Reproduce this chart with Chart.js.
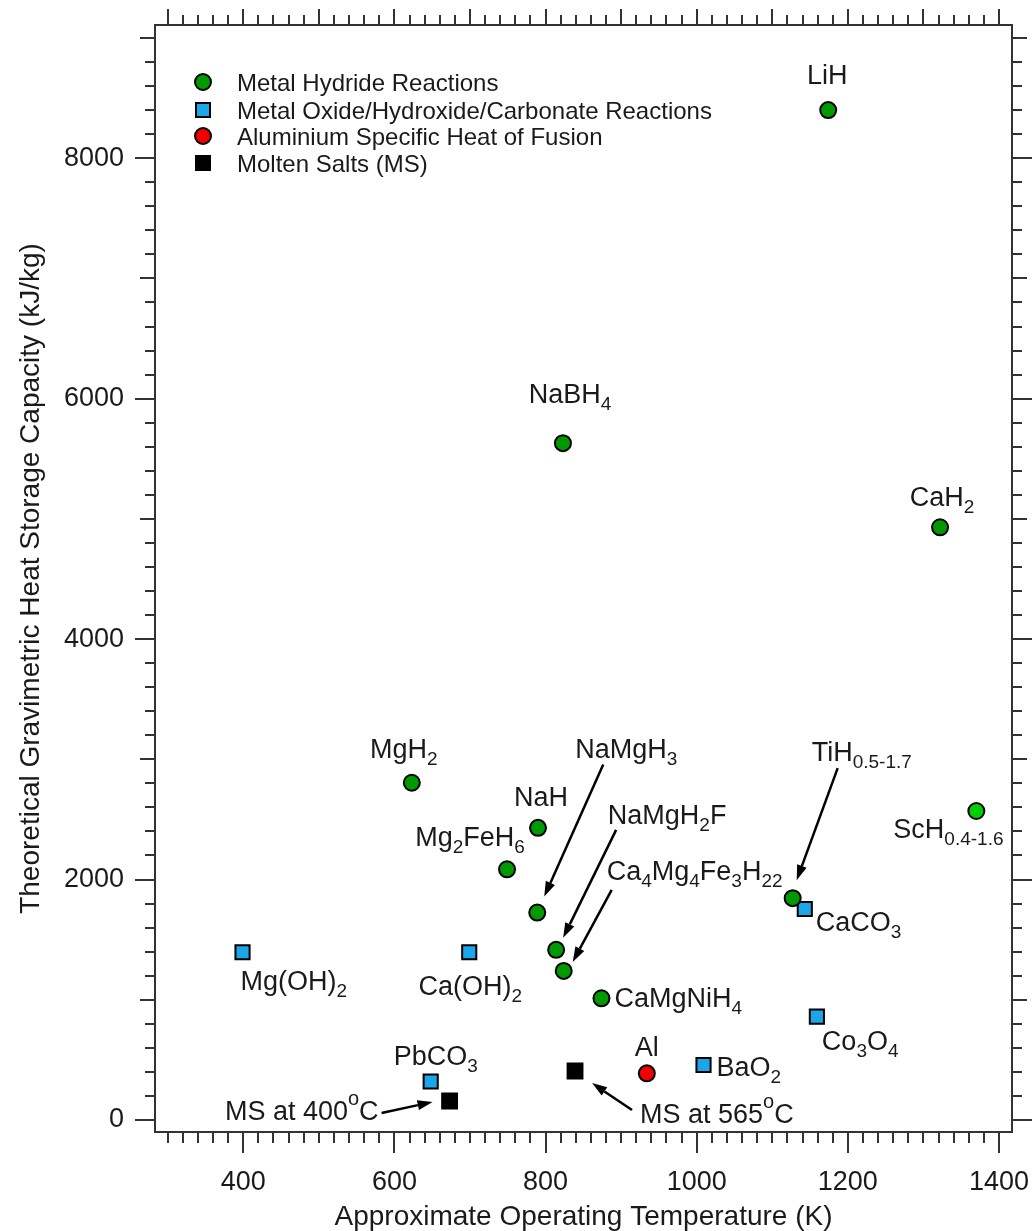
<!DOCTYPE html>
<html>
<head>
<meta charset="utf-8">
<script src="https://cdn.jsdelivr.net/npm/chart.js@4.4.1/dist/chart.umd.min.js"></script>
<style>
  html, body { margin: 0; padding: 0; background: #fff; }
</style>
</head>
<body>
<canvas id="chart" width="1032" height="1231"></canvas>
<script>
// ---------------- data ----------------
var hydrideNames = ['LiH', 'NaBH_{4}', 'CaH_{2}', 'MgH_{2}', 'NaH', 'Mg_{2}FeH_{6}', 'NaMgH_{3}',
                    'NaMgH_{2}F', 'Ca_{4}Mg_{4}Fe_{3}H_{22}', 'CaMgNiH_{4}', 'TiH_{0.5-1.7}', 'ScH_{0.4-1.6}'];
var hydrideTemp = [1174, 823, 1322, 623, 790, 749, 789, 814, 824, 874, 1127, 1370];
var hydrideCap  = [8400, 5630, 4930, 2805, 2430, 2085, 1725, 1415, 1240, 1012, 1845, 2570];

var oxideNames = ['Mg(OH)_{2}', 'Ca(OH)_{2}', 'CaCO_{3}', 'Co_{3}O_{4}', 'BaO_{2}', 'PbCO_{3}'];
var oxideTemp  = [399, 699, 1143, 1159, 1009, 648];
var oxideCap   = [1395, 1395, 1755, 860, 457, 320];

var alNames = ['Al'];
var alTemp  = [934];
var alCap   = [388];

var saltNames = ['MS at 400^{o}C', 'MS at 565^{o}C'];
var saltTemp  = [673, 839];
var saltCap   = [158, 407];

var seriesNames = ['Metal Hydride Reactions', 'Metal Oxide/Hydroxide/Carbonate Reactions',
                   'Aluminium Specific Heat of Fusion', 'Molten Salts (MS)'];
var xTicks = [400, 600, 800, 1000, 1200, 1400];
var yTicks = [0, 2000, 4000, 6000, 8000];

// ---------------- look ----------------
var FONT = '"Liberation Sans", Arial, Helvetica, sans-serif';
var INK = '#1a1a1a';
var green = '#009a00', lime = '#00d000', blue = '#1ba6ea', red = '#f00000';

// where each label sits relative to its point (px); dy is to the text baseline
var labelPos = {
  'LiH': {dx: -1, dy: -26, align: 'center'},
  'NaBH_{4}': {dx: 7, dy: -40, align: 'center'},
  'CaH_{2}': {dx: 2, dy: -21, align: 'center'},
  'MgH_{2}': {dx: -8, dy: -25, align: 'center'},
  'NaH': {dx: 3, dy: -22, align: 'center'},
  'Mg_{2}FeH_{6}': {dx: -37, dy: -23, align: 'center'},
  'NaMgH_{3}': {dx: 89, dy: -155, align: 'center', arrow: [66, -148, 7, -16]},
  'NaMgH_{2}F': {dx: 111, dy: -126, align: 'center', arrow: [60, -120, 7, -12]},
  'Ca_{4}Mg_{4}Fe_{3}H_{22}': {dx: 43, dy: -91, align: 'left', arrow: [48, -81, 9, -9]},
  'CaMgNiH_{4}': {dx: 13, dy: 9, align: 'left'},
  'TiH_{0.5-1.7}': {dx: 19, dy: -137, align: 'left', arrow: [45, -130, 4, -18]},
  'ScH_{0.4-1.6}': {dx: -83, dy: 27, align: 'left'},
  'Mg(OH)_{2}': {dx: -2, dy: 38, align: 'left'},
  'Ca(OH)_{2}': {dx: 1, dy: 43, align: 'center'},
  'CaCO_{3}': {dx: 11, dy: 22, align: 'left'},
  'Co_{3}O_{4}': {dx: 5, dy: 33, align: 'left'},
  'BaO_{2}': {dx: 13, dy: 11, align: 'left'},
  'PbCO_{3}': {dx: 5, dy: -17, align: 'center'},
  'Al': {dx: 0, dy: -17, align: 'center'},
  'MS at 400^{o}C': {dx: -71, dy: 19, align: 'right', arrow: [-68, 12, -17, 1]},
  'MS at 565^{o}C': {dx: 65, dy: 52, align: 'left', arrow: [57, 39, 17, 12]}
};

function pts(xs, ys) {
  return xs.map(function (x, i) { return {x: x, y: ys[i]}; });
}

// text with _{sub} and ^{sup}
function parseRich(str) {
  var parts = [], re = /([_^])\{([^}]*)\}/g, last = 0, m;
  while ((m = re.exec(str))) {
    if (m.index > last) parts.push({t: str.slice(last, m.index), k: 'n'});
    parts.push({t: m[2], k: m[1] == '_' ? 'sub' : 'sup'});
    last = re.lastIndex;
  }
  if (last < str.length) parts.push({t: str.slice(last), k: 'n'});
  return parts;
}
function richFont(k) {
  if (k == 'sub') return '19px ' + FONT;
  if (k == 'sup') return '20px ' + FONT;
  return '27px ' + FONT;
}
function richShift(k) {
  return k == 'sub' ? 7 : (k == 'sup' ? -15 : 0);
}
function drawRich(ctx, str, x, y, align) {
  var parts = parseRich(str), w = 0;
  parts.forEach(function (p) { ctx.font = richFont(p.k); p.w = ctx.measureText(p.t).width; w += p.w; });
  var cx = align == 'center' ? x - w / 2 : (align == 'right' ? x - w : x);
  ctx.textAlign = 'left';
  ctx.textBaseline = 'alphabetic';
  parts.forEach(function (p) {
    ctx.font = richFont(p.k);
    ctx.fillText(p.t, cx, y + richShift(p.k));
    cx += p.w;
  });
}
function drawArrow(ctx, x1, y1, x2, y2) {
  var a = Math.atan2(y2 - y1, x2 - x1), hl = 15, hw = 5;
  var bx = x2 - hl * Math.cos(a), by = y2 - hl * Math.sin(a);
  ctx.strokeStyle = '#000';
  ctx.lineWidth = 2.5;
  ctx.beginPath();
  ctx.moveTo(x1, y1);
  ctx.lineTo(bx, by);
  ctx.stroke();
  ctx.fillStyle = '#000';
  ctx.beginPath();
  ctx.moveTo(x2, y2);
  ctx.lineTo(bx + hw * Math.sin(a), by - hw * Math.cos(a));
  ctx.lineTo(bx - hw * Math.sin(a), by + hw * Math.cos(a));
  ctx.closePath();
  ctx.fill();
}

// frame plus major/minor tick marks on all four sides
var framePlugin = {
  id: 'frame',
  beforeDatasetsDraw: function (chart) {
    var ctx = chart.ctx, a = chart.chartArea;
    var sx = chart.scales.x, sy = chart.scales.y;
    ctx.save();
    ctx.strokeStyle = '#333';
    ctx.lineWidth = 2;
    ctx.strokeRect(a.left, a.top, a.right - a.left, a.bottom - a.top);
    ctx.beginPath();
    for (var k = 300; k <= 1400; k += 20) {
      var px = Math.round(sx.getPixelForValue(k));
      var lb = k % 200 == 0 ? 21 : 11;
      var lt = k % 100 == 0 ? 16 : 10;
      ctx.moveTo(px, a.bottom); ctx.lineTo(px, a.bottom + lb);
      ctx.moveTo(px, a.top); ctx.lineTo(px, a.top - lt);
    }
    for (var v = 0; v <= 9000; v += 200) {
      var py = Math.round(sy.getPixelForValue(v));
      var l = v % 2000 == 0 ? 20 : (v % 1000 == 0 ? 15 : 10);
      ctx.moveTo(a.left, py); ctx.lineTo(a.left - l, py);
      ctx.moveTo(a.right, py); ctx.lineTo(a.right + l, py);
    }
    ctx.stroke();
    ctx.restore();
  },
  afterDatasetsDraw: function (chart) {
    var ctx = chart.ctx;
    ctx.save();
    ctx.fillStyle = INK;
    var groups = [hydrideNames, oxideNames, alNames, saltNames];
    groups.forEach(function (names, di) {
      var meta = chart.getDatasetMeta(di);
      names.forEach(function (name, i) {
        var el = meta.data[i], lp = labelPos[name];
        if (!el || !lp) return;
        if (lp.arrow) drawArrow(ctx, el.x + lp.arrow[0], el.y + lp.arrow[1], el.x + lp.arrow[2], el.y + lp.arrow[3]);
        ctx.fillStyle = INK;
        drawRich(ctx, name, el.x + lp.dx, el.y + lp.dy, lp.align);
      });
    });
    // legend inside the plot
    var ly = [82, 110, 136, 163];
    chart.data.datasets.forEach(function (ds, i) {
      var mx = 203, my = ly[i];
      ctx.lineWidth = 2;
      ctx.strokeStyle = '#000';
      ctx.fillStyle = i == 0 ? green : ds.backgroundColor;
      ctx.beginPath();
      if (ds.pointStyle == 'circle') ctx.arc(mx, my, 8, 0, Math.PI * 2);
      else ctx.rect(mx - 7, my - 7, 14, 14);
      ctx.fill();
      ctx.stroke();
      ctx.fillStyle = INK;
      ctx.font = '24px ' + FONT;
      ctx.textAlign = 'left';
      ctx.textBaseline = 'alphabetic';
      ctx.fillText(seriesNames[i], 237, my + 8.6);
    });
    ctx.restore();
  }
};

var hydrideColors = hydrideNames.map(function (n) { return n.indexOf('ScH') == 0 ? lime : green; });

var xMin = 283.2, xMax = 1417.2, yMin = -100, yMax = 9108;

function plain(v) { return String(v); }

new Chart(document.getElementById('chart'), {
  type: 'scatter',
  data: {
    datasets: [
      {label: seriesNames[0], data: pts(hydrideTemp, hydrideCap), pointStyle: 'circle', pointRadius: 8,
       backgroundColor: hydrideColors, borderColor: '#000', borderWidth: 2},
      {label: seriesNames[1], data: pts(oxideTemp, oxideCap), pointStyle: 'rect', pointRadius: 10,
       backgroundColor: blue, borderColor: '#000', borderWidth: 2},
      {label: seriesNames[2], data: pts(alTemp, alCap), pointStyle: 'circle', pointRadius: 8,
       backgroundColor: red, borderColor: '#000', borderWidth: 2},
      {label: seriesNames[3], data: pts(saltTemp, saltCap), pointStyle: 'rect', pointRadius: 10.5,
       backgroundColor: '#000', borderColor: '#000', borderWidth: 2}
    ]
  },
  options: {
    responsive: false,
    devicePixelRatio: 1,
    animation: false,
    layout: {padding: 0},
    plugins: {legend: {display: false}, tooltip: {enabled: false}},
    scales: {
      x: {
        type: 'linear', position: 'bottom', min: xMin, max: xMax,
        afterBuildTicks: function (s) { s.ticks = xTicks.map(function (v) { return {value: v}; }); },
        afterFit: function (s) { s.height = 99; s.paddingLeft = 0; s.paddingRight = 0; },
        grid: {drawOnChartArea: false, color: 'rgba(0,0,0,0)', tickLength: 21},
        border: {display: false},
        ticks: {font: {family: FONT, size: 27}, color: INK, padding: 13, maxRotation: 0, autoSkip: false,
                callback: plain},
        title: {display: true, text: 'Approximate Operating Temperature (K)', color: INK,
                font: {family: FONT, size: 28, lineHeight: 1}, padding: 0}
      },
      x2: {
        type: 'linear', position: 'top', min: xMin, max: xMax,
        afterFit: function (s) { s.height = 25; s.paddingLeft = 0; s.paddingRight = 0; },
        grid: {display: false}, border: {display: false}, ticks: {display: false}
      },
      y: {
        type: 'linear', position: 'left', min: yMin, max: yMax,
        afterBuildTicks: function (s) { s.ticks = yTicks.map(function (v) { return {value: v}; }); },
        afterFit: function (s) { s.width = 155; s.paddingTop = 0; s.paddingBottom = 0; },
        grid: {drawOnChartArea: false, color: 'rgba(0,0,0,0)', tickLength: 20},
        border: {display: false},
        ticks: {font: {family: FONT, size: 27}, color: INK, padding: 11, autoSkip: false, callback: plain},
        title: {display: true, text: 'Theoretical Gravimetric Heat Storage Capacity (kJ/kg)', color: INK,
                font: {family: FONT, size: 28, lineHeight: 1}, padding: {top: 17, bottom: 0}}
      },
      y2: {
        type: 'linear', position: 'right', min: yMin, max: yMax,
        afterFit: function (s) { s.width = 20; s.paddingTop = 0; s.paddingBottom = 0; },
        grid: {display: false}, border: {display: false}, ticks: {display: false}
      }
    }
  },
  plugins: [framePlugin]
});
</script>
</body>
</html>
